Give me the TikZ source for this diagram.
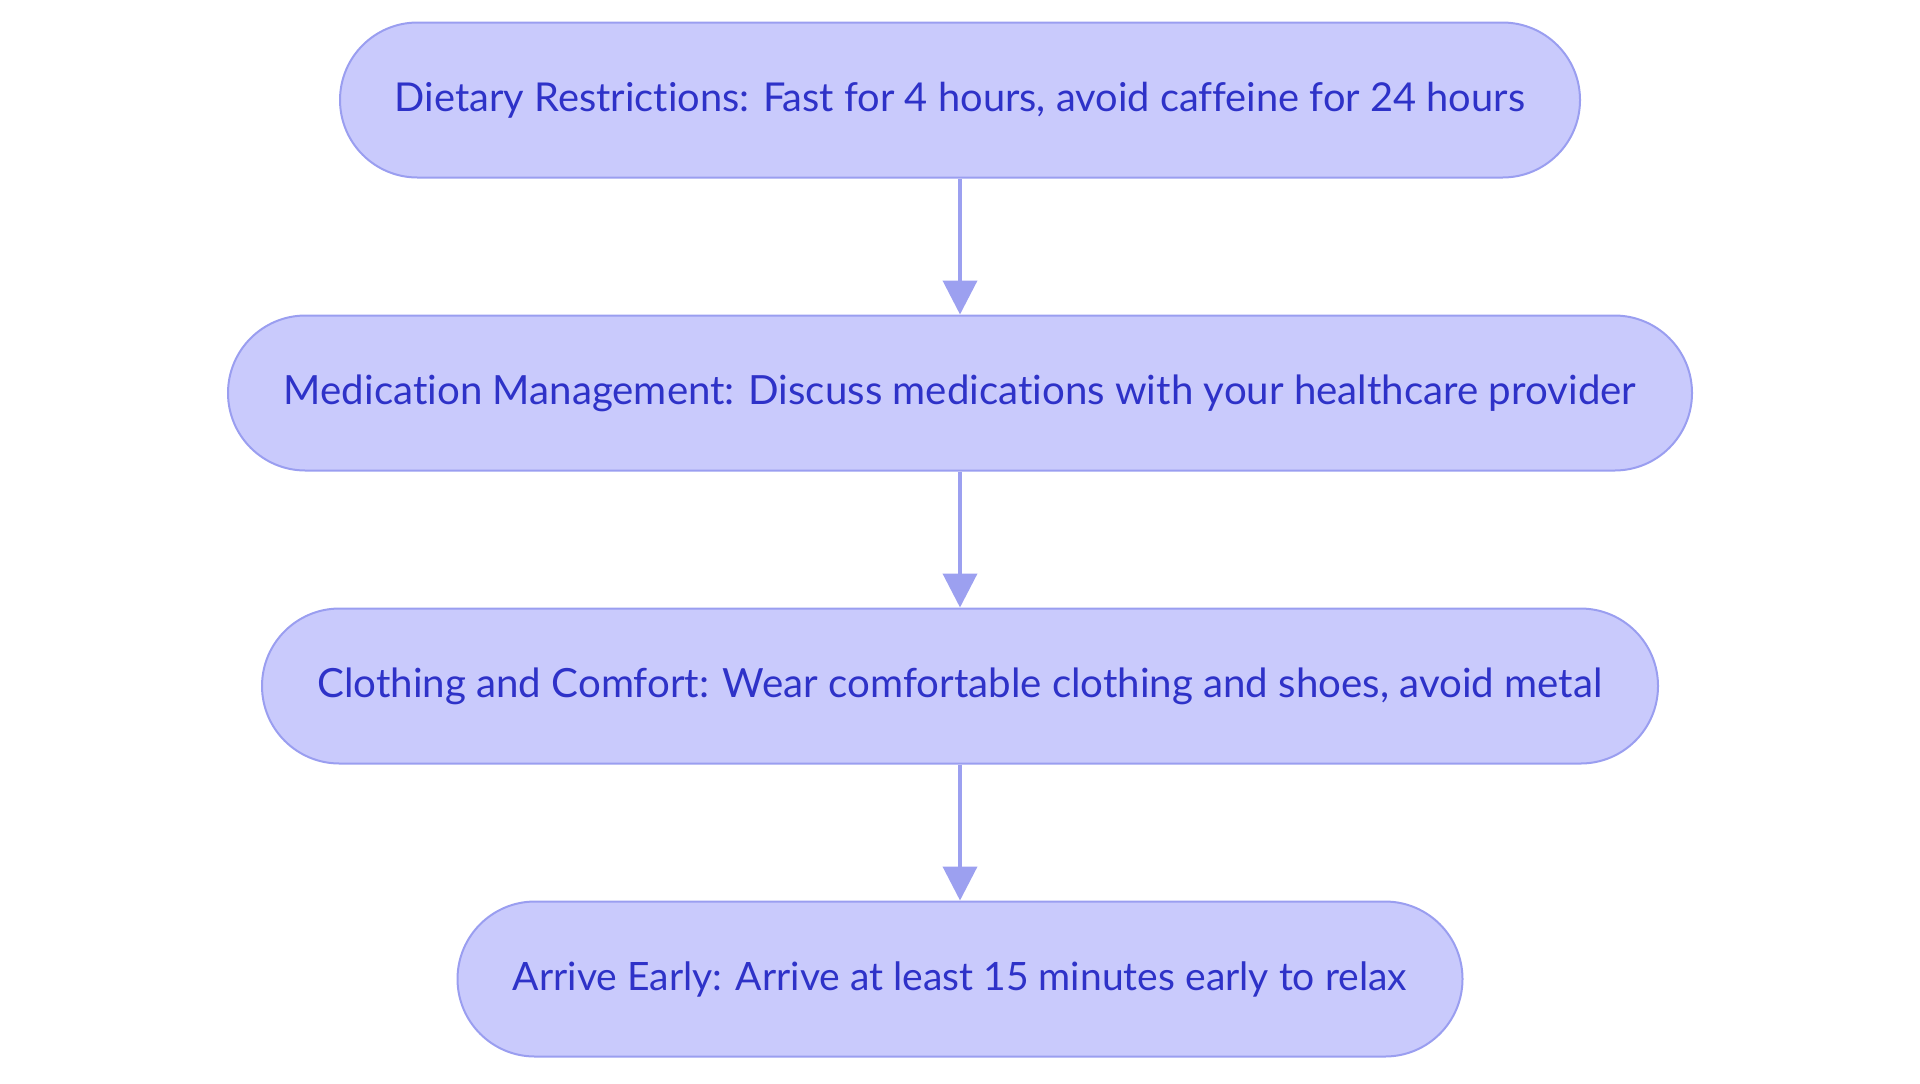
\documentclass[tikz,border=0pt]{standalone}
\usepackage{fontspec}
\setmainfont[Ligatures={NoCommon,NoRare}]{Lato}
\usepackage{graphicx}
\usetikzlibrary{arrows.meta}
\definecolor{boxfill}{HTML}{C9CAFC}
\definecolor{boxline}{HTML}{9A9EF0}
\definecolor{boxtext}{HTML}{2E32C8}
\definecolor{arrowcol}{HTML}{9CA0F0}
\tikzset{
  stadium/.style={draw=boxline, fill=boxfill, line width=1pt, rounded corners=38.75pt,
    minimum height=77.5pt, inner sep=0pt, text=boxtext},
  flowarrow/.style={draw=arrowcol, line width=2pt, -{Triangle[length=17pt,width=17pt]}}
}
\begin{document}
\begin{tikzpicture}[x=0.5pt,y=-0.5pt]
\useasboundingbox (0,0) rectangle (1920,1083);
\node[stadium, minimum width=620pt] (n1) at (960,100)
  {\resizebox{565pt}{!}{Dietary Restrictions: Fast for 4 hours, avoid caffeine for 24 hours}};
\node[stadium, minimum width=732pt] (n2) at (960,393)
  {\resizebox{676pt}{!}{Medication Management: Discuss medications with your healthcare provider}};
\node[stadium, minimum width=698pt] (n3) at (960,686)
  {\resizebox{642.5pt}{!}{Clothing and Comfort: Wear comfortable clothing and shoes, avoid metal}};
\node[stadium, minimum width=502.5pt] (n4) at (960,979)
  {\resizebox{447pt}{!}{Arrive Early: Arrive at least 15 minutes early to relax}};
\draw[flowarrow] (n1) -- (n2);
\draw[flowarrow] (n2) -- (n3);
\draw[flowarrow] (n3) -- (n4);
\end{tikzpicture}
\end{document}
